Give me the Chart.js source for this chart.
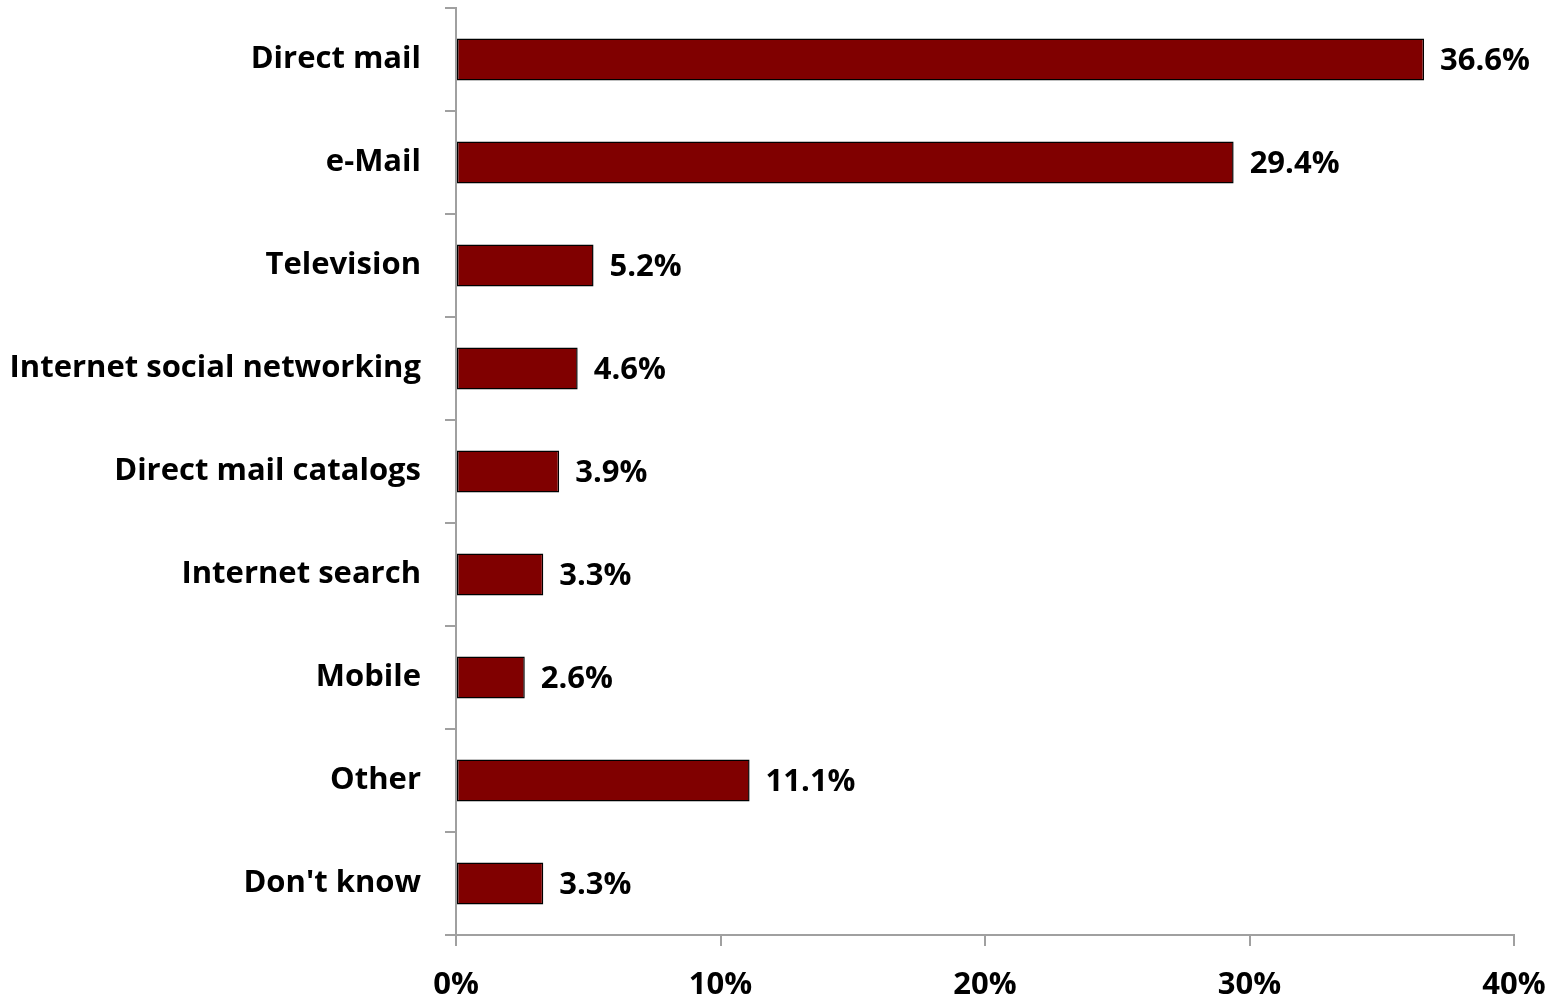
<!DOCTYPE html>
<html>
<head>
<meta charset="utf-8">
<script src="https://cdn.jsdelivr.net/npm/chart.js@4/dist/chart.umd.min.js"></script>
<style>
  html, body { margin: 0; padding: 0; background: #ffffff; }
  #wrap { width: 1552px; height: 998px; position: relative; }
</style>
</head>
<body>
<div id="wrap"><canvas id="channelChart"></canvas></div>
<script>
// Survey answers: preferred marketing channel
const channels = ['Direct mail', 'e-Mail', 'Television', 'Internet social networking',
    'Direct mail catalogs', 'Internet search', 'Mobile', 'Other', "Don't know"];
const shares = [36.6, 29.4, 5.2, 4.6, 3.9, 3.3, 2.6, 11.1, 3.3];
const axisTicks = [0, 10, 20, 30, 40];

const barRed = '#800000';
const axisGrey = '#a0a0a0';
const labelFont = { family: '"Open Sans", sans-serif', size: 31, weight: 'bold' };

// Writes the percentage just right of each bar
const valueLabels = {
    id: 'valueLabels',
    afterDatasetsDraw(chart) {
        const ctx = chart.ctx;
        const meta = chart.getDatasetMeta(0);
        ctx.save();
        ctx.font = 'bold ' + labelFont.size + 'px ' + labelFont.family;
        ctx.fillStyle = '#000000';
        ctx.textAlign = 'left';
        ctx.textBaseline = 'middle';
        meta.data.forEach(function(bar, i) {
            ctx.fillText(shares[i].toFixed(1) + '%', bar.x + 16, bar.y + 2);
        });
        ctx.restore();
    }
};

document.addEventListener('DOMContentLoaded', function() {
    const ctx = document.getElementById('channelChart');

    new Chart(ctx.getContext('2d'), {
        type: 'bar',
        data: {
            labels: channels,
            datasets: [{
                data: shares,
                backgroundColor: barRed,
                borderColor: '#000000',
                borderWidth: 1.5,
                borderSkipped: false,
                categoryPercentage: 1,
                barPercentage: 0.41
            }]
        },
        options: {
            indexAxis: 'y',
            responsive: true,
            maintainAspectRatio: false,
            animation: false,
            layout: { padding: { top: 8, right: 38, left: 0, bottom: 0 } },
            plugins: {
                legend: { display: false },
                tooltip: { enabled: false }
            },
            scales: {
                x: {
                    min: axisTicks[0],
                    max: axisTicks[axisTicks.length - 1],
                    afterBuildTicks: function(scale) {
                        scale.ticks = axisTicks.map(function(v) { return { value: v }; });
                    },
                    afterFit: function(scale) {
                        scale.height = 63;
                        scale.paddingLeft = 0;
                        scale.paddingRight = 0;
                    },
                    border: { color: axisGrey, width: 2 },
                    grid: { drawOnChartArea: false, color: axisGrey, lineWidth: 2, tickLength: 11 },
                    ticks: {
                        color: '#000000',
                        font: labelFont,
                        padding: 21,
                        callback: function(v) { return v + '%'; }
                    }
                },
                y: {
                    afterFit: function(scale) {
                        scale.width = 456;
                        scale.paddingTop = 0;
                        scale.paddingBottom = 0;
                    },
                    border: { color: axisGrey, width: 2 },
                    grid: { drawOnChartArea: false, offset: true, color: axisGrey, lineWidth: 2, tickLength: 11 },
                    ticks: {
                        color: '#000000',
                        font: labelFont,
                        padding: 24
                    }
                }
            }
        },
        plugins: [valueLabels]
    });
});
</script>
</body>
</html>
